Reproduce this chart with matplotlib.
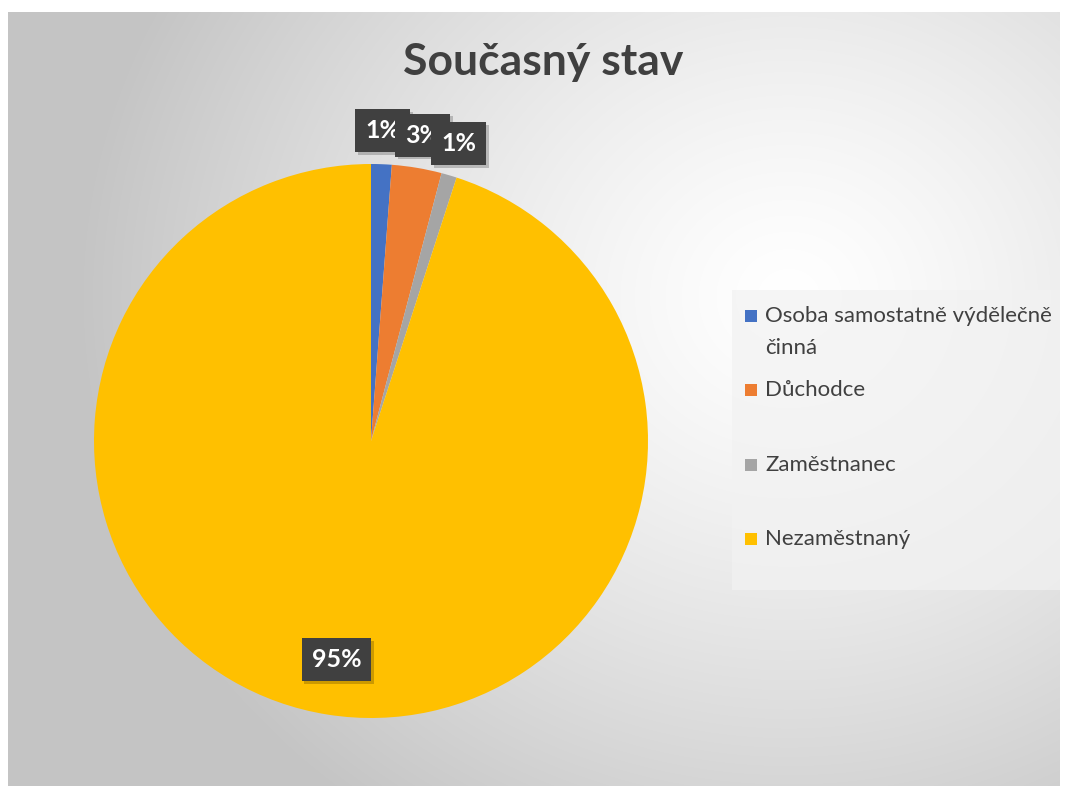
import numpy as np
import matplotlib.pyplot as plt
import matplotlib.patheffects as pe
from matplotlib.patches import Rectangle

# data
kategorie = ['Osoba samostatně výdělečně\nčinná', 'Důchodce', 'Zaměstnanec', 'Nezaměstnaný']
podily = [1.2, 2.9, 0.9, 95.0]
barvy = ['#4472C4', '#ED7D31', '#A5A5A5', '#FFC000']
nazev = 'Současný stav'

plt.rcParams['font.family'] = ['Lato', 'DejaVu Sans']

W, H = 1065, 789
fig = plt.figure(figsize=(W / 100, H / 100), dpi=100)

# pozadi - radialni prechod
bg = fig.add_axes([0, 0, 1, 1])
yy, xx = np.mgrid[0:H, 0:W]
d = np.sqrt((xx - 790) ** 2 + ((yy - 290) * 1.1) ** 2)
t = np.clip(d / 720, 0, 1)
g = 1 - 0.23 * t ** 1.3
img = np.dstack([g, g, g])
bg.imshow(img, extent=[8, 1060, 786, 12], aspect='auto')
bg.set_xlim(0, W)
bg.set_ylim(H, 0)
bg.axis('off')

# svetly ramecek legendy
bg.add_patch(Rectangle((732, 290), 328, 300, fc='#f2f2f2', ec='none', alpha=0.7))

# titulek
fig.text(543 / W, 1 - 62 / H, nazev, ha='center', va='center', fontsize=32,
         fontweight='bold', color='#404040')

# kolac
r = 277
cx, cy = 371, 441
ax = fig.add_axes([(cx - r) / W, 1 - (cy + r) / H, 2 * r / W, 2 * r / H])
wedges, _ = ax.pie(podily, colors=barvy, startangle=90, counterclock=False,
                   wedgeprops=dict(edgecolor='none'))
ax.set_xlim(-1, 1)
ax.set_ylim(-1, 1)
ax.set_aspect('equal')
ax.axis('off')

# popisky
for w, p in zip(wedges, podily):
    ang = np.deg2rad((w.theta1 + w.theta2) / 2)
    rr = 0.8 if p > 50 else 1.12
    x, y = rr * np.cos(ang), rr * np.sin(ang)
    txt = ax.text(x, y, f'{p:.0f}%', ha='center', va='center', fontsize=18,
                  fontweight='bold', color='white', clip_on=False,
                  bbox=dict(boxstyle='square,pad=0.4', fc='#404040', ec='none'))
    txt.get_bbox_patch().set_path_effects([
        pe.SimplePatchShadow(offset=(2, -2), shadow_rgbFace='black', alpha=0.2),
        pe.Normal()])

# legenda
ly = [316, 390, 465, 539]
for lab, c, y in zip(kategorie, barvy, ly):
    bg.add_patch(Rectangle((745, y - 6), 12, 12, fc=c, ec='none'))
    for i, radek in enumerate(lab.split('\n')):
        bg.text(765, y + 32 * i, radek, ha='left', va='center', fontsize=16,
                color='#404040')

fig.savefig('out.png', dpi=100)
